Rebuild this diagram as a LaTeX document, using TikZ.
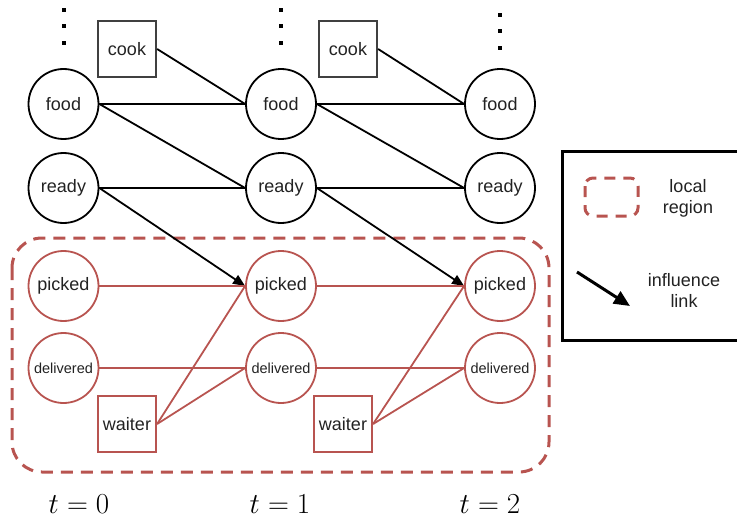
\RequirePackage{fix-cm}
\documentclass[tikz,border=0pt]{standalone}
\usepackage{fontspec}
\setmainfont{Liberation Sans}
\usetikzlibrary{arrows.meta}
\definecolor{regred}{HTML}{B85450}
\definecolor{txt}{HTML}{222222}
\tikzset{
  var/.style={circle, draw=black, line width=1.8pt, minimum size=70pt, inner sep=0pt,
              text=txt, font=\fontsize{18}{20}\selectfont},
  agent/.style={rectangle, draw=black!75, line width=2.2pt, minimum width=58pt, minimum height=56pt,
                inner sep=0pt, text=txt, font=\fontsize{18}{20}\selectfont},
  locvar/.style={var, draw=regred},
  smalltext/.style={font=\fontsize{14.5}{16}\selectfont},
  locagent/.style={agent, draw=regred},
  dep/.style={line width=1.8pt, black},
  locdep/.style={line width=1.8pt, regred},
  infl/.style={line width=1.8pt, black, -{Triangle[length=12pt,width=10pt]}},
  region/.style={draw=regred, line width=3pt, dash pattern=on 12pt off 8pt, rounded corners=30pt},
  legtext/.style={text=txt, font=\fontsize{18}{21}\selectfont, align=center},
  tlabel/.style={font=\fontsize{29}{31}\selectfont, inner sep=0pt, anchor=base}
}
\begin{document}
\begin{tikzpicture}[x=1pt,y=-1pt]
\useasboundingbox (0,0) rectangle (737,519);

% local region
\draw[region] (12,238) rectangle (549,472);

% time slices: state variables
\foreach \i/\x in {0/63.5, 1/281, 2/500} {
  \node[var] (food\i) at (\x,104) {food};
  \node[var] (ready\i) at (\x,188) {ready};
  \node[locvar] (picked\i) at (\x,286) {picked};
  \node[locvar, smalltext] (deliv\i) at (\x,368) {delivered};
}
% vertical ellipses above each slice
\foreach \x/\y in {63.5/10, 281/10, 500/15} {
  \foreach \d in {0,16.5,33} \fill (\x-2,\y+\d-2) rectangle ++(4,4);
}

% actions
\node[agent] (cook0) at (127,49) {cook};
\node[agent] (cook1) at (348,49) {cook};
\node[locagent] (waiter0) at (127,424) {waiter};
\node[locagent] (waiter1) at (343,424) {waiter};

% dependencies between consecutive slices
\foreach \a/\b/\c in {0/1/0, 1/2/1} {
  \draw[dep] (cook\c.east) -- (food\b.west);
  \draw[dep] (food\a.east) -- (food\b.west);
  \draw[dep] (food\a.east) -- (ready\b.west);
  \draw[dep] (ready\a.east) -- (ready\b.west);
  \draw[infl] (ready\a.east) -- (picked\b.west);
  \draw[locdep] (picked\a.east) -- (picked\b.west);
  \draw[locdep] (deliv\a.east) -- (deliv\b.west);
  \draw[locdep] (waiter\c.east) -- (picked\b.west);
  \draw[locdep] (waiter\c.east) -- (deliv\b.west);
}

% time labels
\node[tlabel] (t0) at (79,513) {$t=0$};
\node[tlabel] (t1) at (280,513) {$t=1$};
\node[tlabel] (t2) at (490,513) {$t=2$};

% legend
\draw[line width=3pt] (562,151) rectangle (740,340);
\draw[draw=regred, line width=3pt, dash pattern=on 11pt off 8pt, rounded corners=8pt]
  (585,178) rectangle (638,216);
\node[legtext] (loclab) at (688,198) {local\\region};
\coordinate (la) at (577,272);
\coordinate (lb) at (630,306);
\draw[line width=3pt, -{Triangle[length=16pt,width=14pt]}] (la) -- (lb);
\node[legtext] (inflab) at (684,290) {influence\\link};
\end{tikzpicture}
\end{document}
